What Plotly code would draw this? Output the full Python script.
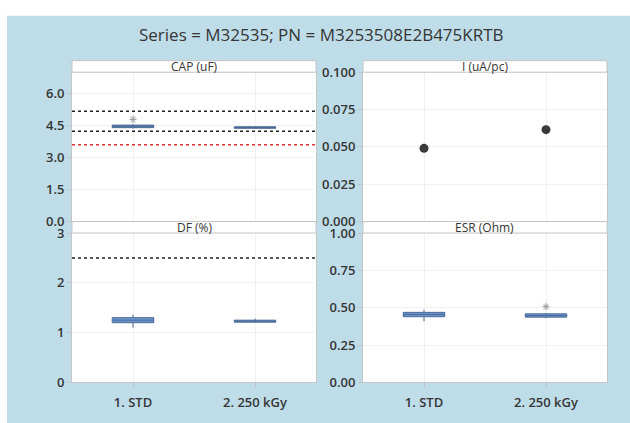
import plotly.graph_objects as go

# ---------------- data ----------------
categories = ["1. STD", "2. 250 kGy"]
title_text = "Series = M32535; PN = M3253508E2B475KRTB"

cap_q1 = [4.40, 4.37]
cap_med = [4.46, 4.41]
cap_q3 = [4.52, 4.44]
cap_lo = [4.36, 4.35]
cap_hi = [4.56, 4.46]
cap_out_x = ["1. STD"]
cap_out_y = [4.79]
cap_limits_black = [5.17, 4.23]
cap_limit_red = [3.60]

i_values = [0.049, 0.0615]

df_q1 = [1.20, 1.21]
df_med = [1.25, 1.23]
df_q3 = [1.30, 1.25]
df_lo = [1.10, 1.20]
df_hi = [1.36, 1.28]
df_limit_black = [2.5]

esr_q1 = [0.440, 0.437]
esr_med = [0.455, 0.447]
esr_q3 = [0.469, 0.459]
esr_lo = [0.410, 0.430]
esr_hi = [0.486, 0.465]
esr_out_x = ["2. 250 kGy"]
esr_out_y = [0.507]

panel_titles = ["CAP (uF)", "I (uA/pc)", "DF (%)", "ESR (Ohm)"]

# ---------------- layout geometry ----------------
W, H = 630, 423
def px_x(v):
    return v / W
def px_y(v):
    return 1 - v / H

left_dom = [px_x(72), px_x(316)]
right_dom = [px_x(363), px_x(607)]
top_dom = [px_y(222), px_y(66)]
bot_dom = [px_y(390), px_y(234)]

BOX_FILL = "#6C97D2"
BOX_LINE = "#4A6894"
TXT = "#363636"
GRID = "#F1F1F1"
FRAME = "#C4C4C4"
BG = "#BEDDE9"

fig = go.Figure()

def add_box(xa, ya, q1, med, q3, lo, hi):
    fig.add_trace(go.Box(
        x=categories, q1=q1, median=med, q3=q3, lowerfence=lo, upperfence=hi,
        xaxis=xa, yaxis=ya, width=0.34, fillcolor=BOX_FILL,
        line=dict(color=BOX_LINE, width=1), whiskerwidth=0,
        boxpoints=False, showlegend=False, hoverinfo="skip"))

add_box("x", "y", cap_q1, cap_med, cap_q3, cap_lo, cap_hi)
fig.add_trace(go.Scatter(x=cap_out_x, y=cap_out_y, xaxis="x", yaxis="y", mode="markers",
                         marker=dict(symbol="asterisk-open", size=6, color="#999999",
                                     line=dict(color="#999999", width=1)),
                         showlegend=False, hoverinfo="skip"))

fig.add_trace(go.Scatter(x=categories, y=i_values, xaxis="x2", yaxis="y2", mode="markers",
                         marker=dict(symbol="circle", size=9, color="#3A3A3A"),
                         showlegend=False, hoverinfo="skip"))

add_box("x3", "y3", df_q1, df_med, df_q3, df_lo, df_hi)

add_box("x4", "y4", esr_q1, esr_med, esr_q3, esr_lo, esr_hi)
fig.add_trace(go.Scatter(x=esr_out_x, y=esr_out_y, xaxis="x4", yaxis="y4", mode="markers",
                         marker=dict(symbol="asterisk-open", size=6, color="#999999",
                                     line=dict(color="#999999", width=1)),
                         showlegend=False, hoverinfo="skip"))

tickfont = dict(family="Open Sans", size=13, color=TXT, weight=600)

def xaxis_cfg(dom, anchor, show_labels):
    return dict(domain=dom, anchor=anchor, type="category", range=[-0.5, 1.5],
                showgrid=True, gridcolor=GRID, gridwidth=1,
                showline=True, linecolor=FRAME, mirror=True,
                ticks="outside" if show_labels else "", ticklen=4, tickcolor=FRAME,
                ticklabelstandoff=4,
                showticklabels=show_labels, tickfont=tickfont, zeroline=False,
                categoryorder="array", categoryarray=categories)

def yaxis_cfg(dom, anchor, rng, dtick, fmt):
    return dict(domain=dom, anchor=anchor, range=rng, dtick=dtick, tick0=0, tickformat=fmt,
                showgrid=True, gridcolor=GRID, gridwidth=1,
                showline=True, linecolor=FRAME, mirror=True,
                ticks="outside", ticklen=4, tickcolor=FRAME, tickfont=tickfont,
                zeroline=False)

fig.update_layout(
    width=W, height=H, autosize=False,
    margin=dict(l=0, r=0, t=0, b=0),
    paper_bgcolor=BG, plot_bgcolor="white",
    xaxis=xaxis_cfg(left_dom, "y", False),
    yaxis=yaxis_cfg(top_dom, "x", [0, 7.0], 1.5, ".1f"),
    xaxis2=xaxis_cfg(right_dom, "y2", False),
    yaxis2=yaxis_cfg(top_dom, "x2", [0, 0.1], 0.025, ".3f"),
    xaxis3=xaxis_cfg(left_dom, "y3", True),
    yaxis3=yaxis_cfg(bot_dom, "x3", [0, 3], 1, "d"),
    xaxis4=xaxis_cfg(right_dom, "y4", True),
    yaxis4=yaxis_cfg(bot_dom, "x4", [0, 1.0], 0.25, ".2f"),
)

shapes = []
# thin white edge at the top and left, as in the reference
shapes.append(dict(type="rect", xref="paper", yref="paper", x0=-0.1, x1=1.1, y0=px_y(7), y1=1.1,
                   fillcolor="white", line=dict(width=0), layer="below"))
shapes.append(dict(type="rect", xref="paper", yref="paper", x0=-0.1, x1=px_x(7), y0=-0.1, y1=1.1,
                   fillcolor="white", line=dict(width=0), layer="below"))
for v in cap_limits_black:
    shapes.append(dict(type="line", xref="x domain", yref="y", x0=0, x1=1, y0=v, y1=v,
                       line=dict(color="#222222", width=1.5, dash="dot")))
for v in cap_limit_red:
    shapes.append(dict(type="line", xref="x domain", yref="y", x0=0, x1=1, y0=v, y1=v,
                       line=dict(color="#E03030", width=1.5, dash="dot")))
for v in df_limit_black:
    shapes.append(dict(type="line", xref="x3 domain", yref="y3", x0=0, x1=1, y0=v, y1=v,
                       line=dict(color="#222222", width=1.5, dash="dot")))

strips = [(left_dom, 54, 66), (right_dom, 54, 66), (left_dom, 222, 234), (right_dom, 222, 234)]
annotations = []
for (dom, t, b), name in zip(strips, panel_titles):
    shapes.append(dict(type="rect", xref="paper", yref="paper", x0=dom[0], x1=dom[1],
                       y0=px_y(b), y1=px_y(t), fillcolor="white",
                       line=dict(color=FRAME, width=1)))
    annotations.append(dict(text=name, xref="paper", yref="paper", x=(dom[0] + dom[1]) / 2,
                            y=px_y((t + b) / 2), showarrow=False, xanchor="center", yanchor="middle",
                            font=dict(family="Open Sans", size=12, color=TXT)))

annotations.append(dict(text=title_text, xref="paper", yref="paper", x=px_x(321), y=px_y(27),
                        showarrow=False, xanchor="center", yanchor="middle",
                        font=dict(family="Open Sans", size=17, color=TXT)))

fig.update_layout(shapes=shapes, annotations=annotations)

# keep the page from showing scrollbars and fill any uncovered page area with the background colour
page_js = ("document.documentElement.style.overflow='hidden';"
           "document.body.style.overflow='hidden';"
           "document.body.style.margin='0';"
           "document.body.style.background='" + BG + "';")

fig.write_html("out.html", post_script=page_js)
